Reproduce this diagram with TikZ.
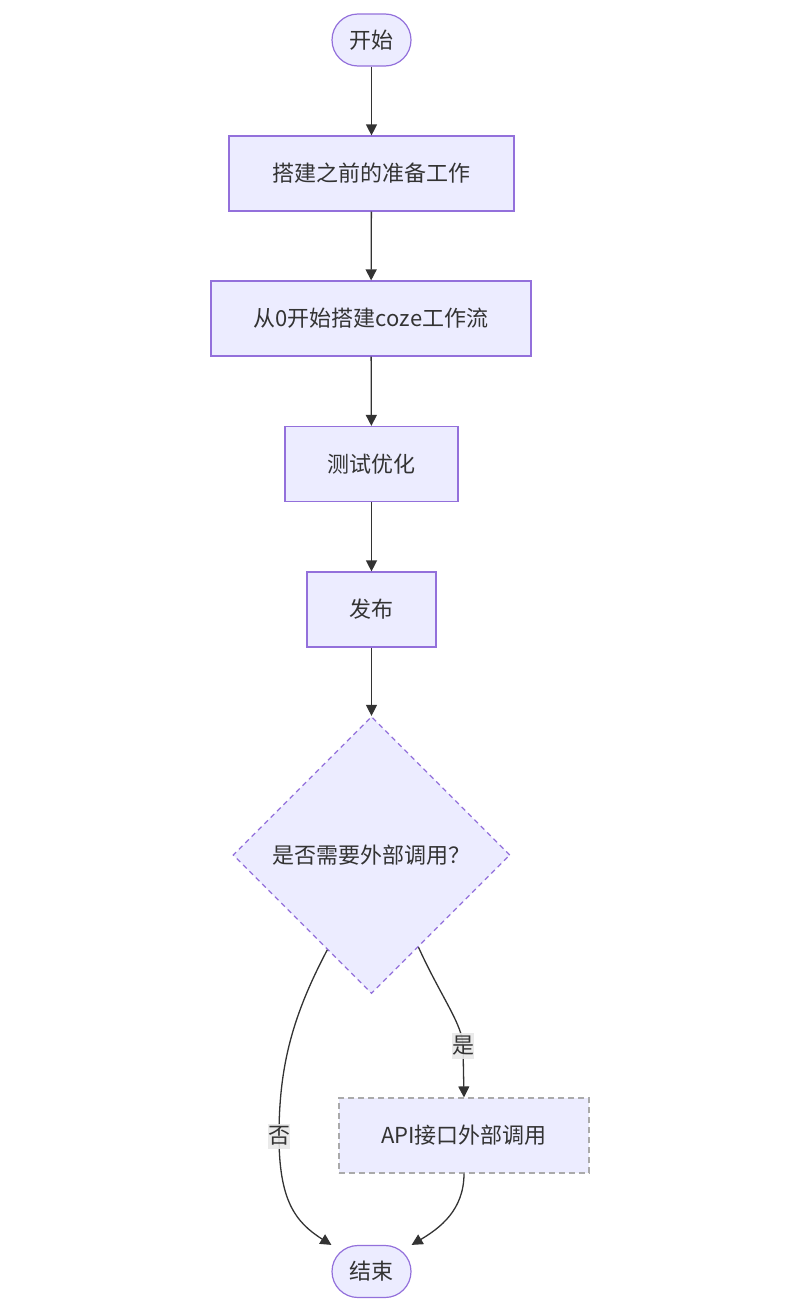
\documentclass[tikz,border=0pt]{standalone}
\usepackage{fontspec}
\setmainfont{Noto Sans CJK SC}
\usetikzlibrary{shapes.geometric,arrows.meta}
\definecolor{nodefill}{HTML}{ECECFF}
\definecolor{nodeline}{HTML}{9370DB}
\definecolor{edgecol}{HTML}{333333}
\definecolor{lblfill}{HTML}{E8E8E8}
\definecolor{grayline}{HTML}{AAAAAA}
\definecolor{txtcol}{HTML}{333333}
\tikzset{
  base/.style={fill=nodefill, line width=1.2pt, inner sep=0pt, text=txtcol},
  term/.style={base, draw=nodeline, rounded corners=26pt, minimum width=79pt, minimum height=52pt},
  procbox/.style={base, draw=nodeline, minimum height=75pt},
  decision/.style={base, draw=nodeline, diamond, aspect=1, dash pattern=on 5pt off 4pt, minimum width=277pt, minimum height=277pt},
  apibox/.style={base, draw=grayline, dash pattern=on 6pt off 4pt, minimum width=250pt, minimum height=75pt},
  edge/.style={draw=edgecol, line width=1.3pt, -{Triangle[length=11pt,width=11pt]}},
  lbl/.style={fill=lblfill, fill opacity=0.9, text opacity=1, text=txtcol, inner xsep=0pt, inner ysep=3pt}
}
\begin{document}
\begin{tikzpicture}[x=1pt,y=-1pt,font=\fontsize{22}{26}\selectfont]
\useasboundingbox (0,0) rectangle (800,1309);
\node[term] (start) at (371.5,40) {开始};
\node[procbox, minimum width=285pt] (prep) at (371.5,173.5) {搭建之前的准备工作};
\node[procbox, minimum width=320pt] (build) at (371,318.5) {从0开始搭建coze工作流};
\node[procbox, minimum width=173pt] (test) at (371.5,464) {测试优化};
\node[procbox, minimum width=129pt] (pub) at (371.5,609.5) {发布};
\node[decision] (dec) at (371.5,855) {是否需要外部调用？};
\node[apibox] (api) at (464,1135.5) {API接口外部调用};
\node[term] (end) at (371.5,1271.5) {结束};

\draw[edge] (start) -- (prep);
\draw[edge] (prep) -- (build);
\draw[edge] (build) -- (test);
\draw[edge] (test) -- (pub);
\draw[edge] (pub) -- (dec);
\draw[edge] (dec.245) .. controls (293,1015) and (279,1065) .. (279,1136) node[lbl] {否}
  .. controls (279,1200) and (295,1222) .. (end.north west);
\draw[edge] (dec.297) .. controls (440,995) and (463,1025) .. (463,1046) node[lbl] {是}
  -- (api.north);
\draw[edge] (api.south) .. controls (464,1210) and (440,1228) .. (end.north east);
\end{tikzpicture}
\end{document}
